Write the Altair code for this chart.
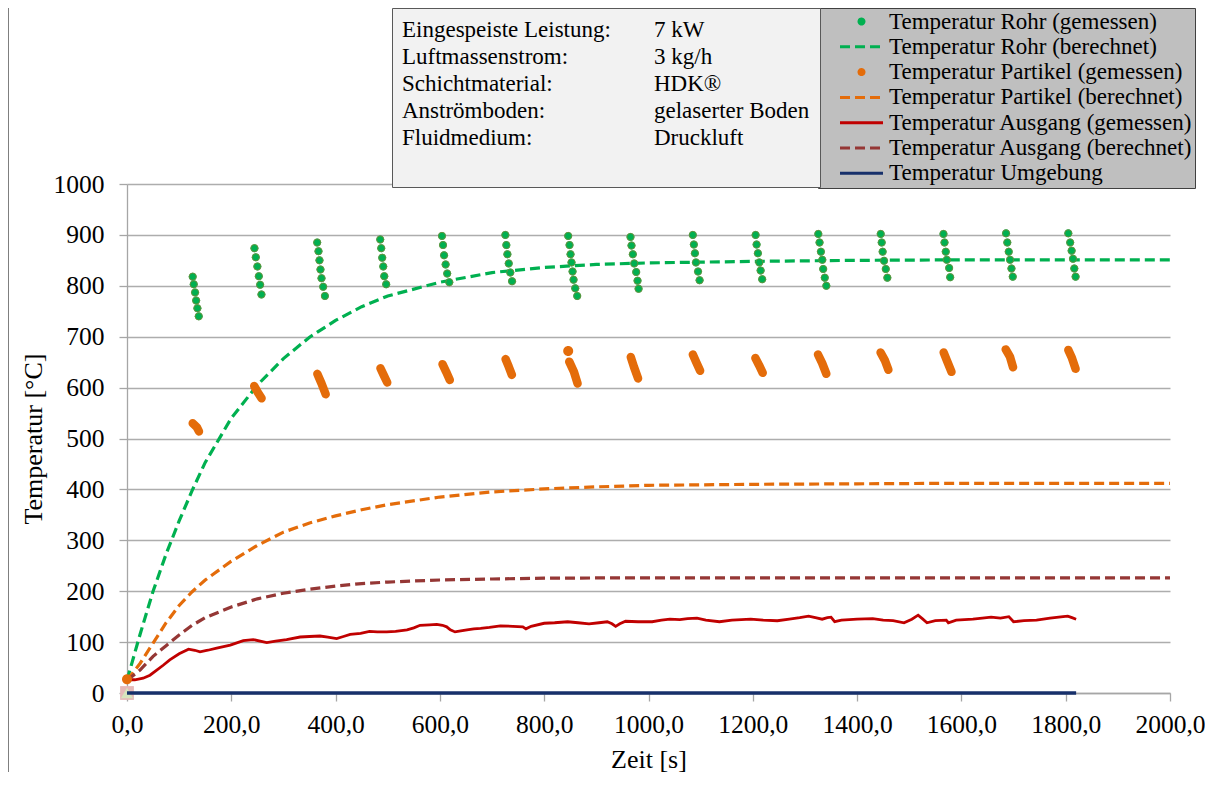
import altair as alt
import pandas as pd

# ---------------- series / legend definitions ----------------
SER = [
    "Temperatur Rohr (gemessen)",
    "Temperatur Rohr (berechnet)",
    "Temperatur Partikel (gemessen)",
    "Temperatur Partikel (berechnet)",
    "Temperatur Ausgang (gemessen)",
    "Temperatur Ausgang (berechnet)",
    "Temperatur Umgebung",
]
SER_COLORS = ["#00B050", "#00B050", "#E46C0A", "#E46C0A", "#C00000", "#953735", "#17306B"]
SER_DASH = [[1, 0], [10, 5], [1, 0], [10, 5], [1, 0], [10, 5], [1, 0]]
DOT = "M-0.25,0A0.25,0.25,0,1,1,0.25,0A0.25,0.25,0,1,1,-0.25,0Z"
SOLID = "M-2.15,0L2.15,0"
DASHED = "M-2.15,0L1.85,0"
SER_SHAPES = [DOT, DASHED, DOT, DASHED, SOLID, DASHED, SOLID]

# ---------------- info box ----------------
info_labels = ["Eingespeiste Leistung:", "Luftmassenstrom:", "Schichtmaterial:", "Anströmboden:", "Fluidmedium:"]
info_values = ["7 kW", "3 kg/h", "HDK®", "gelaserter Boden", "Druckluft"]

# ---------------- calculated curves ----------------
calc_t = [0, 25, 50, 75, 100, 125, 150, 200, 250, 300, 350, 400, 450, 500, 600, 700, 800, 900, 1000, 1200, 1400, 1600, 1800, 2000]
rohr_calc = [25, 115, 200, 273, 338, 398, 453, 540, 605, 657, 699, 732, 759, 780, 807, 826, 836, 842, 845, 848, 850, 851, 851, 851]
partikel_calc = [25, 58, 98, 138, 172, 199, 222, 259, 290, 316, 334, 348, 360, 370, 385, 395, 401, 405, 408, 410, 411, 412, 412, 412]
ausgang_calc = [25, 45, 72, 93, 114, 133, 148, 169, 185, 196, 204, 210, 215, 218, 222, 224, 225.5, 226, 226, 226, 226, 226, 226, 226]

# ---------------- measured: tube (green dots) ----------------
rohr_mess_t = [
    126, 128, 130.5, 132.6, 135, 137.6,
    244.4, 247, 250, 252.8, 255.3, 257.8,
    364.7, 367.2, 369.1, 371, 373, 376.2, 379.5,
    485.6, 487.5, 489.4, 491.4, 493.3, 497,
    604, 606, 608, 611, 614, 618,
    725.5, 727.4, 729.4, 732, 735, 738.4,
    846, 848.6, 850.5, 852.4, 854.4, 856.3, 859.5, 863.3,
    965.5, 967.4, 970, 972.6, 976.4, 979, 981,
    1085, 1087, 1089, 1091, 1095, 1098,
    1205.4, 1207.3, 1209.8, 1212.5, 1215, 1218,
    1325.6, 1328, 1330.6, 1333.3, 1335, 1338, 1341,
    1445.3, 1447.2, 1449, 1451.7, 1455, 1458,
    1565.6, 1567.6, 1570, 1572, 1576.5, 1578.5,
    1685.6, 1688, 1690.8, 1693.3, 1696, 1698.5,
    1805, 1808.6, 1811.4, 1814, 1816.5, 1819,
]
rohr_mess_T = [
    818, 803, 787, 771, 756, 740,
    874, 856, 838, 819, 802, 783,
    885, 868, 850, 832, 815, 798, 780,
    891, 874, 855, 838, 819, 803,
    898, 880, 860, 842, 824, 807,
    900, 880, 862, 844, 826, 809,
    898, 880, 862, 846, 828, 812, 795, 780,
    896, 879, 862, 844, 827, 810, 794,
    900, 881, 864, 846, 828, 811,
    900, 881, 864, 846, 830, 813,
    902, 885, 867, 851, 833, 816, 800,
    902, 885, 867, 849, 833, 816,
    902, 885, 867, 851, 835, 817,
    903, 885, 867, 851, 834, 818,
    903, 885, 869, 853, 834, 818,
]

# ---------------- measured: particles (orange strokes) ----------------
partikel_mess_cluster = [c for c in range(1, 16) for _ in range(3)]
partikel_mess_t = [126, 134, 138, 244, 250, 258, 365, 373, 381, 486, 492, 499, 605, 612, 619,
                   726, 732, 738, 848, 857, 864, 966, 972, 980, 1085, 1092, 1099, 1205, 1212, 1219,
                   1325, 1333, 1341, 1445, 1453, 1460, 1566, 1573, 1581, 1685, 1693, 1699, 1805, 1812, 1819]
partikel_mess_T = [530, 522, 514, 603, 592, 579, 627, 608, 587, 638, 625, 610, 646, 631, 615,
                   656, 641, 625, 651, 631, 608, 660, 641, 618, 665, 649, 633, 658, 644, 629,
                   665, 648, 627, 669, 654, 635, 669, 651, 631, 675, 661, 640, 674, 658, 637]
partikel_dot_t = [0, 846]
partikel_dot_T = [27, 672]

# ---------------- measured: outlet (red line) ----------------
ausgang_mess_t = [0, 15, 31, 44, 57, 70, 82, 100, 118, 130, 140, 155, 172, 198, 223, 242, 268, 285, 306, 332,
                  350, 370, 385, 402, 415, 428, 448, 465, 480, 498,
                  515, 537, 550, 562, 580, 594, 605, 613, 620, 629, 640, 652, 665, 678, 695, 716, 740, 759, 765, 775,
                  800, 820, 845, 865, 886, 905, 921, 930, 937, 945, 956, 980, 1007, 1025, 1041, 1060, 1075, 1093,
                  1110, 1136, 1160, 1196, 1220, 1247, 1270, 1290, 1307, 1320, 1333, 1343, 1350, 1357, 1370, 1400,
                  1430, 1450, 1469, 1490, 1505, 1517, 1525, 1534, 1550, 1571, 1575, 1590, 1622, 1640, 1657, 1675,
                  1691, 1700, 1720, 1744, 1770, 1795, 1804, 1812, 1820]
ausgang_mess_T = [26, 26, 29, 35, 45, 55, 65, 77, 86, 84, 81, 84, 88, 94, 103, 105, 99, 102, 105, 110,
                  111, 112, 110, 107, 111, 115, 117, 121, 120, 120,
                  121, 124, 128, 133, 134, 135, 133, 130, 124, 120, 122, 124, 126, 127, 129, 132, 131, 130, 126, 131,
                  137, 138, 140, 138, 136, 138, 140, 136, 131, 136, 141, 140, 140, 143, 145, 144, 146, 147,
                  143, 140, 143, 145, 143, 142, 145, 148, 151, 148, 145, 148, 149, 140, 143, 145,
                  146, 143, 142, 138, 145, 153, 146, 138, 142, 143, 138, 143, 145, 147, 149, 147,
                  150, 140, 142, 143, 147, 150, 151, 148, 145]

# ---------------- ambient ----------------
umgebung_t = [0, 1820]
umgebung_T = [0, 0]

# corner markers at the origin
corner_t = [0, 0]
corner_T = [0, 0]

# ---------------- data frames ----------------
df_calc = pd.concat([
    pd.DataFrame({"t": calc_t, "T": rohr_calc, "series": SER[1]}),
    pd.DataFrame({"t": calc_t, "T": partikel_calc, "series": SER[3]}),
    pd.DataFrame({"t": calc_t, "T": ausgang_calc, "series": SER[5]}),
])
df_red = pd.DataFrame({"t": ausgang_mess_t, "T": ausgang_mess_T, "series": SER[4]})
df_blue = pd.DataFrame({"t": umgebung_t, "T": umgebung_T, "series": SER[6]})
df_green = pd.DataFrame({"t": rohr_mess_t, "T": rohr_mess_T, "series": SER[0]})
df_orange = pd.DataFrame({"t": partikel_mess_t, "T": partikel_mess_T, "series": SER[2],
                          "cluster": partikel_mess_cluster})
df_odot = pd.DataFrame({"t": partikel_dot_t, "T": partikel_dot_T, "series": SER[2]})
df_corner = pd.DataFrame({"t": corner_t, "T": corner_T})

# legend grid is filled column by column: first column = labels, second = values
info_domain = info_labels + [" "] + info_values + ["  "]
df_info = pd.DataFrame({"info": info_domain})

FONT = "Liberation Serif"

main_legend = alt.Legend(
    title=None, orient="none", legendX=691, legendY=-176, direction="vertical",
    fillColor="#BFBFBF", strokeColor="#404040", padding=2,
    labelFont=FONT, labelFontSize=23, labelColor="#000000", labelLimit=700,
    labelExpr="datum.label + '          '",
    symbolSize=400, symbolStrokeWidth=3, symbolOffset=30, labelOffset=16, rowPadding=1.3,
)
info_legend = alt.Legend(
    title=None, orient="none", legendX=265, legendY=-176, columns=2, columnPadding=31,
    fillColor="#F2F2F2", strokeColor="#595959", padding=10,
    labelFont=FONT, labelFontSize=23, labelColor="#000000", labelLimit=600,
    symbolSize=0, symbolStrokeWidth=0, symbolOpacity=0, symbolOffset=-23, labelOffset=0, rowPadding=3,
)

x_enc = alt.X("t:Q", title="Zeit [s]",
              scale=alt.Scale(domain=[0, 2000], nice=False),
              axis=alt.Axis(values=list(range(0, 2001, 200)),
                            labelExpr="replace(format(datum.value, '.1f'), '.', ',')",
                            grid=False, tickSize=8, labelPadding=31, labelBaseline="alphabetic",
                            labelFlush=False, labelOverlap=False,
                            titleX=521.5, titleY=74, titleBaseline="alphabetic", titleAlign="center"))
y_enc = alt.Y("T:Q", title="Temperatur [°C]",
              scale=alt.Scale(domain=[0, 1000], nice=False),
              axis=alt.Axis(values=list(range(0, 1001, 100)), format="d", grid=True,
                            tickSize=8, labelPadding=15, labelOverlap=False,
                            titleAngle=270, titleX=-86, titleY=254.5,
                            titleBaseline="alphabetic", titleAlign="center"))
color_enc = alt.Color("series:N", scale=alt.Scale(domain=SER, range=SER_COLORS), legend=main_legend)
dash_enc = alt.StrokeDash("series:N", scale=alt.Scale(domain=SER, range=SER_DASH), legend=main_legend)
shape_enc = alt.Shape("series:N", scale=alt.Scale(domain=SER, range=SER_SHAPES), legend=main_legend)

border = alt.Chart(pd.DataFrame({"a": [0]})).mark_rule(color="#7F7F7F", strokeWidth=1).encode(
    x=alt.value(-118.5), y=alt.value(-176), y2=alt.value(588))

corner_sq = alt.Chart(df_corner.iloc[[0]]).mark_point(shape="square", filled=True, color="#E6B9B8",
                                                    size=190, opacity=1).encode(x=x_enc, y=y_enc)
corner_tri = alt.Chart(df_corner.iloc[[1]]).mark_point(shape="triangle-up", filled=True, color="#D7E4BD",
                                                     size=150, opacity=1).encode(x=x_enc, y=y_enc)

blue = alt.Chart(df_blue).mark_line().encode(
    x=x_enc, y=y_enc, color=color_enc, strokeWidth=alt.value(3.5))
calc = alt.Chart(df_calc).mark_line().encode(
    x=x_enc, y=y_enc, color=color_enc, strokeDash=dash_enc, detail="series:N",
    strokeWidth=alt.value(3.2))
red = alt.Chart(df_red).mark_line().encode(
    x=x_enc, y=y_enc, color=color_enc, strokeWidth=alt.value(2.8))
orange = alt.Chart(df_orange).mark_line(strokeCap="round", strokeJoin="round").encode(
    x=x_enc, y=y_enc, color=color_enc, detail="cluster:N", strokeWidth=alt.value(8.5))
odot = alt.Chart(df_odot).mark_point(filled=True, opacity=1).encode(
    x=x_enc, y=y_enc, color=color_enc, shape=shape_enc, size=alt.value(1600))
green = alt.Chart(df_green).mark_point(filled=True, opacity=1).encode(
    x=x_enc, y=y_enc, color=color_enc, shape=shape_enc, size=alt.value(1024))
green_outline = alt.Chart(df_green).mark_point(shape="circle", filled=False, color="#7B8B3A",
                                               strokeWidth=0.8, size=52, opacity=1).encode(x=x_enc, y=y_enc)
info = alt.Chart(df_info).mark_point(filled=True, opacity=0).encode(
    fill=alt.Fill("info:N", scale=alt.Scale(domain=info_domain, range=["#ffffff"] * len(info_domain)),
                  legend=info_legend))

chart = alt.layer(
    border, corner_sq, corner_tri, blue, calc, red, orange, odot, green, green_outline, info
).properties(
    width=1043, height=509,
    padding={"left": 119, "top": 176, "right": 35, "bottom": 79},
    autosize=alt.AutoSizeParams(type="none"),
).configure(font=FONT).configure_view(stroke="transparent").configure_axis(
    domainColor="#A6A6A6", domainWidth=1.3, tickColor="#A6A6A6", tickWidth=1.3,
    gridColor="#ADADAD", gridWidth=1.3,
    labelFont=FONT, labelFontSize=25.5, labelColor="#000000",
    titleFont=FONT, titleFontSize=26, titleFontWeight="normal", titleColor="#000000",
)

chart.save("out.html", embed_options={"renderer": "svg", "actions": False})
